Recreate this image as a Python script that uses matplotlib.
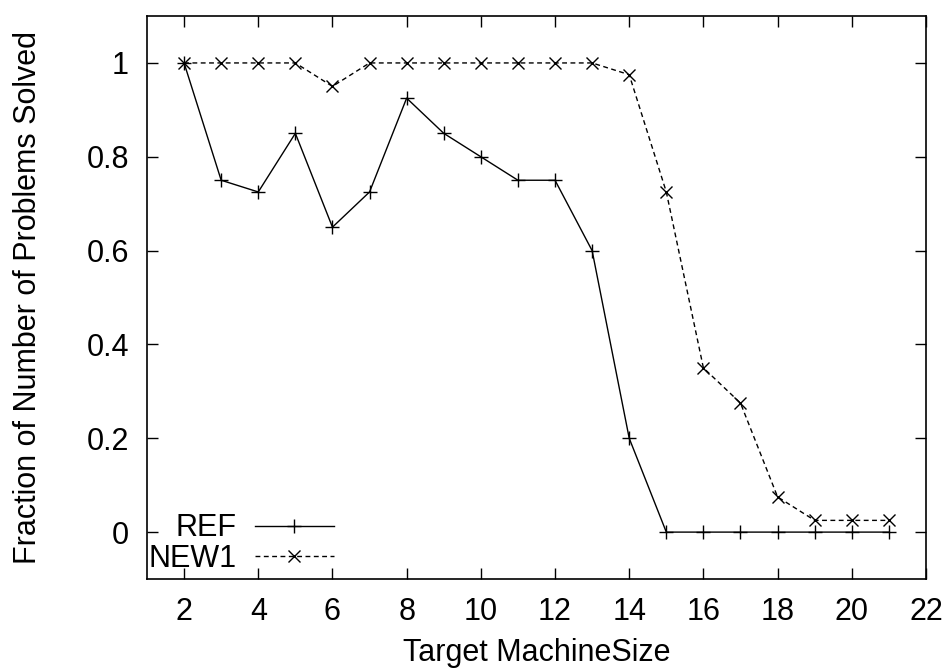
import matplotlib
matplotlib.use("Agg")
import matplotlib.pyplot as plt

plt.rcParams['font.family'] = ['Liberation Sans', 'DejaVu Sans']

machine_size = [2, 3, 4, 5, 6, 7, 8, 9, 10, 11, 12, 13, 14, 15, 16, 17, 18, 19, 20, 21]
ref_solved = [1.0, 0.75, 0.725, 0.85, 0.65, 0.725, 0.925, 0.85, 0.8, 0.75, 0.75, 0.6, 0.2,
              0.0, 0.0, 0.0, 0.0, 0.0, 0.0, 0.0]
new1_solved = [1.0, 1.0, 1.0, 1.0, 0.95, 1.0, 1.0, 1.0, 1.0, 1.0, 1.0, 1.0, 0.975,
               0.725, 0.35, 0.275, 0.075, 0.025, 0.025, 0.025]
x_ticks = [2, 4, 6, 8, 10, 12, 14, 16, 18, 20, 22]
y_ticks = [0, 0.2, 0.4, 0.6, 0.8, 1]
y_tick_labels = ['0', '0.2', '0.4', '0.6', '0.8', '1']

fig = plt.figure(figsize=(9.47, 6.68), dpi=100)
ax = fig.add_axes([0.1552, 0.1332, 0.8226, 0.8428])

ax.plot(machine_size, ref_solved, color='black', linewidth=1.0, marker='+',
        markersize=9.5, markeredgewidth=1.0, label='REF')
ax.plot(machine_size, new1_solved, color='black', linewidth=1.0, marker='x',
        markersize=9.0, markeredgewidth=1.0, linestyle=(0, (3.5, 2.5)), label='NEW1')

ax.set_xlim(1, 22)
ax.set_ylim(-0.1, 1.1)
ax.set_xticks(x_ticks)
ax.set_yticks(y_ticks)
ax.set_yticklabels(y_tick_labels)
ax.tick_params(direction='in', length=8, width=1.0, top=True, right=True,
               labelsize=22, pad=13, colors='black')
for spine in ax.spines.values():
    spine.set_linewidth(1.2)

ax.set_xlabel('Target MachineSize', fontsize=22, labelpad=8)
ax.set_ylabel('Fraction of Number of Problems Solved', fontsize=22, labelpad=31)

ax.legend(loc='lower left', bbox_to_anchor=(-0.014, -0.0125), frameon=False, markerfirst=False,
          fontsize=22, handlelength=2.6, handletextpad=0.6, labelspacing=0.02,
          borderaxespad=0.0)

fig.savefig('out.png', dpi=100)
